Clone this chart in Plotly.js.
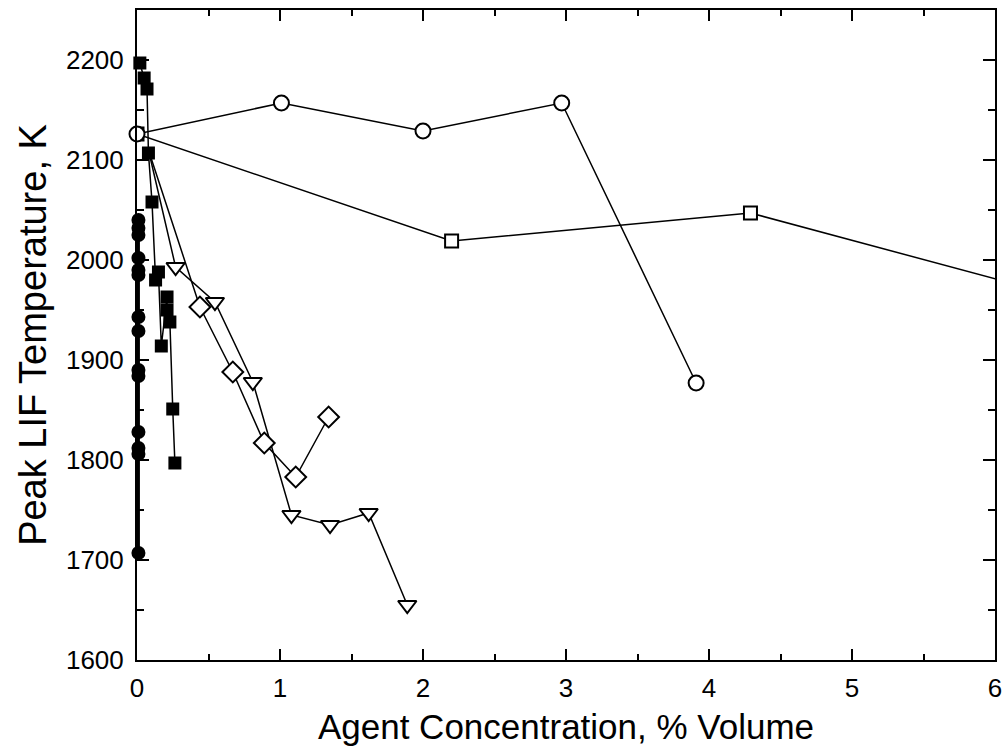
<!DOCTYPE html>
<html>
<head>
<meta charset="utf-8">
<script src="https://cdn.plot.ly/plotly-3.0.1.min.js"></script>
<style>html,body{margin:0;padding:0;background:#fff;}#chart{width:1005px;height:754px;}</style>
</head>
<body>
<div id="chart"></div>
<script>
// Open circles
const openCircleX = [0.0, 1.01, 2.0, 2.97, 3.91];
const openCircleY = [2126, 2157, 2129, 2157, 1877];
// Open squares (last point lies beyond the visible x range)
const openSquareX = [0.0, 2.2, 4.29, 6.5];
const openSquareY = [2126, 2019, 2047, 1962];
// Open diamonds (first point is the shared start, hidden under the filled squares)
const diamondX = [0.08, 0.44, 0.67, 0.89, 1.11, 1.34];
const diamondY = [2110, 1953, 1888, 1817, 1783, 1843];
// Open down-triangles
const triangleX = [0.08, 0.27, 0.545, 0.81, 1.08, 1.35, 1.62, 1.89];
const triangleY = [2110, 1993, 1958, 1878, 1745, 1735, 1747, 1655];
// Filled squares
const fSquareX = [0.02, 0.05, 0.07, 0.08, 0.105, 0.13, 0.15, 0.17, 0.21, 0.21, 0.23, 0.25, 0.265];
const fSquareY = [2197, 2182, 2171, 2107, 2058, 1980, 1988, 1914, 1963, 1950, 1938, 1851, 1797];
// Filled circles
const fCircleX = [0.01, 0.01, 0.01, 0.01, 0.01, 0.01, 0.01, 0.01, 0.01, 0.01, 0.01, 0.01, 0.01, 0.01];
const fCircleY = [2040, 2032, 2025, 2002, 1990, 1985, 1943, 1929, 1890, 1884, 1828, 1812, 1806, 1707];

const xTicks = [0, 1, 2, 3, 4, 5, 6];
const yTicks = [1600, 1700, 1800, 1900, 2000, 2100, 2200];

const lineStyle = {color: '#000', width: 1.5};
const hideFirst = (arr, s) => arr.map((v, i) => i === 0 ? 0 : s);
const traces = [
  {x: triangleX, y: triangleY, mode: 'lines+markers', line: lineStyle,
   marker: {symbol: 'triangle-down', size: hideFirst(triangleX, 16), opacity: 1, color: '#fff', line: {color: '#000', width: 2}}},
  {x: diamondX, y: diamondY, mode: 'lines+markers', line: lineStyle,
   marker: {symbol: 'diamond', size: hideFirst(diamondX, 16), opacity: 1, color: '#fff', line: {color: '#000', width: 2}}},
  {x: fSquareX, y: fSquareY, mode: 'lines+markers', line: lineStyle, cliponaxis: false,
   marker: {symbol: 'square', size: 13, color: '#000'}},
  {x: fCircleX, y: fCircleY, mode: 'lines+markers', line: {color: '#000', width: 3}, cliponaxis: false,
   marker: {symbol: 'circle', size: 14, color: '#000'}},
  {x: openSquareX, y: openSquareY, mode: 'lines+markers', line: lineStyle,
   marker: {symbol: 'square', size: 13, color: '#fff', line: {color: '#000', width: 2}}},
  {x: openCircleX, y: openCircleY, mode: 'lines+markers', line: lineStyle, cliponaxis: false,
   marker: {symbol: 'circle', size: 15, color: '#fff', line: {color: '#000', width: 2}}}
];

const font = 'Liberation Sans, Arial, sans-serif';
const layout = {
  width: 1005, height: 754,
  margin: {l: 137, r: 10, t: 10, b: 94},
  paper_bgcolor: '#fff', plot_bgcolor: '#fff',
  showlegend: false,
  font: {family: font, color: '#000'},
  xaxis: {
    range: [0, 6], tickvals: xTicks, ticktext: xTicks.map(String),
    ticks: 'inside', ticklen: 11, tickwidth: 2, tickcolor: '#000',
    minor: {dtick: 0.5, tick0: 0, ticks: 'inside', ticklen: 6, tickwidth: 2, tickcolor: '#000'},
    showline: true, linecolor: '#000', linewidth: 2, mirror: 'ticks',
    showgrid: false, zeroline: false, ticklabelstandoff: 4,
    tickfont: {size: 26, family: font},
    title: {text: 'Agent Concentration, % Volume', font: {size: 35, family: font}, standoff: 12}
  },
  yaxis: {
    range: [1600, 2250], tickvals: yTicks, ticktext: yTicks.map(String),
    ticks: 'inside', ticklen: 12, tickwidth: 2, tickcolor: '#000',
    minor: {dtick: 50, tick0: 1600, ticks: 'inside', ticklen: 7, tickwidth: 2, tickcolor: '#000'},
    showline: true, linecolor: '#000', linewidth: 2, mirror: 'ticks',
    showgrid: false, zeroline: false, ticklabelstandoff: 6,
    tickfont: {size: 26, family: font},
    title: {text: 'Peak LIF Temperature, K', font: {size: 38, family: font}, standoff: 8}
  }
};

Plotly.newPlot('chart', traces, layout, {displayModeBar: false, staticPlot: true});
</script>
</body>
</html>
